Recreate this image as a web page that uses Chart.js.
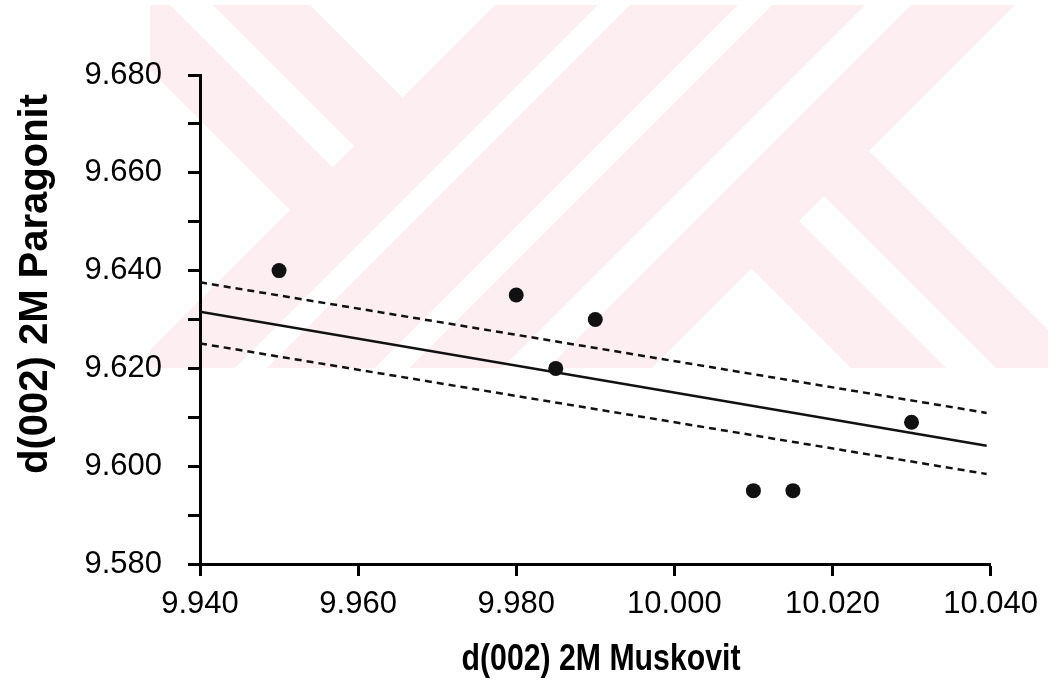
<!DOCTYPE html>
<html>
<head>
<meta charset="utf-8">
<script src="https://cdn.jsdelivr.net/npm/chart.js@4.4.0/dist/chart.umd.min.js"></script>
<style>
    html, body { margin: 0; padding: 0; background: #fff; }
    #wrap { width: 1048px; height: 683px; }
</style>
</head>
<body>
<div id="wrap"><canvas id="chart" width="1048" height="683"></canvas></div>
<script>
// Valori
const muskovit = [9.950, 9.980, 9.990, 9.985, 10.010, 10.015, 10.030];
const paragonit = [9.640, 9.635, 9.630, 9.620, 9.595, 9.595, 9.609];

// Retta di regressione e limiti tratteggiati (estremi)
const fitX = [9.940, 10.0395];
const fitY = [9.6316, 9.6042];
const upperY = [9.6376, 9.6109];
const lowerY = [9.6251, 9.5984];

// Tick degli assi
const xTicks = [9.94, 9.96, 9.98, 10.00, 10.02, 10.04];
const yTicks = [9.58, 9.59, 9.60, 9.61, 9.62, 9.63, 9.64, 9.65, 9.66, 9.67, 9.68];
const yLabelled = [9.58, 9.60, 9.62, 9.64, 9.66, 9.68];

const xTitle = 'd(002) 2M Muskovit';
const yTitle = 'd(002) 2M Paragonit';

const FONT = '"Liberation Sans", Arial, sans-serif';

// Filigrana rosa di sfondo (solo decorazione)
const WM_COLOR = '#fdeef1';
const wmBox = { left: 150, top: 5, right: 1048, bottom: 368 };
function slashBand(c1, c2) {
    return [
        [c1 / 2 - 1000, c1 / 2 + 1000], [c1 / 2 + 1000, c1 / 2 - 1000],
        [c2 / 2 + 1000, c2 / 2 - 1000], [c2 / 2 - 1000, c2 / 2 + 1000]
    ];
}
const wmCuts = [
    [[290, 210], [-710, -790], [-710, 1210]],
    [[332.5, 167.5], [354, 146], [-646, -854], [-667.5, -832.5]],
    [[402.5, 97.5], [-597.5, -902.5], [1402.5, -902.5]],
    slashBand(603, 635),
    slashBand(743, 777),
    slashBand(870, 916),
    [[751.5, 268.5], [-248.5, 1268.5], [1751.5, 1268.5]],
    [[799, 221], [824, 196], [1824, 1196], [1799, 1221]],
    [[869, 151], [1869, -849], [1869, 1151]]
];

const watermark = {
    id: 'watermark',
    beforeDraw(chart) {
        const ctx = chart.ctx;
        ctx.save();
        ctx.fillStyle = '#fff';
        ctx.fillRect(0, 0, chart.width, chart.height);
        ctx.beginPath();
        ctx.rect(wmBox.left, wmBox.top, wmBox.right - wmBox.left, wmBox.bottom - wmBox.top);
        ctx.clip();
        ctx.fillStyle = WM_COLOR;
        ctx.fillRect(wmBox.left, wmBox.top, wmBox.right - wmBox.left, wmBox.bottom - wmBox.top);
        ctx.fillStyle = '#fff';
        wmCuts.forEach(poly => {
            ctx.beginPath();
            poly.forEach((p, i) => i ? ctx.lineTo(p[0], p[1]) : ctx.moveTo(p[0], p[1]));
            ctx.closePath();
            ctx.fill();
        });
        ctx.restore();
    }
};

// Titoli degli assi: x compresso in orizzontale, y spostato verso l'alto come nell'originale
const axisTitles = {
    id: 'axisTitles',
    afterDraw(chart) {
        const ctx = chart.ctx;
        ctx.save();
        ctx.fillStyle = '#000';
        ctx.textAlign = 'center';
        ctx.textBaseline = 'middle';
        ctx.font = 'bold 36px ' + FONT;

        ctx.save();
        ctx.translate(601, 660);
        ctx.scale(0.84, 1);
        ctx.fillText(xTitle, 0, 0);
        ctx.restore();

        ctx.font = 'bold 40px ' + FONT;
        ctx.translate(36, 284);
        ctx.rotate(-Math.PI / 2);
        ctx.fillText(yTitle, 0, 0);
        ctx.restore();
    }
};

const points = muskovit.map((x, i) => ({ x: x, y: paragonit[i] }));
const line = ys => fitX.map((x, i) => ({ x: x, y: ys[i] }));

new Chart(document.getElementById('chart'), {
    type: 'scatter',
    data: {
        datasets: [
            {
                label: 'dati',
                data: points,
                backgroundColor: '#111',
                borderWidth: 0,
                pointRadius: 7.5,
                order: 0
            },
            {
                label: 'regressione',
                data: line(fitY),
                showLine: true,
                borderColor: '#111',
                borderWidth: 2.5,
                pointRadius: 0,
                order: 1
            },
            {
                label: 'limite superiore',
                data: line(upperY),
                showLine: true,
                borderColor: '#111',
                borderWidth: 2.5,
                borderDash: [7, 5],
                pointRadius: 0,
                order: 1
            },
            {
                label: 'limite inferiore',
                data: line(lowerY),
                showLine: true,
                borderColor: '#111',
                borderWidth: 2.5,
                borderDash: [7, 5],
                pointRadius: 0,
                order: 1
            }
        ]
    },
    options: {
        responsive: false,
        animation: false,
        layout: { padding: { left: 0, top: 75, right: 56, bottom: 0 } },
        plugins: {
            legend: { display: false },
            tooltip: { enabled: false }
        },
        scales: {
            x: {
                type: 'linear',
                min: 9.94,
                max: 10.04,
                afterBuildTicks: s => { s.ticks = xTicks.map(v => ({ value: v })); },
                afterFit: s => { s.height = 119; },
                ticks: {
                    font: { family: FONT, size: 31 },
                    color: '#000',
                    padding: 10,
                    maxRotation: 0,
                    autoSkip: false,
                    callback: v => Number(v).toFixed(3)
                },
                grid: {
                    drawOnChartArea: false,
                    tickLength: 12,
                    tickWidth: 3,
                    tickColor: '#000'
                },
                border: { color: '#000', width: 3 }
            },
            y: {
                type: 'linear',
                min: 9.58,
                max: 9.68,
                afterBuildTicks: s => { s.ticks = yTicks.map(v => ({ value: v })); },
                afterFit: s => { s.width = 200; },
                ticks: {
                    font: { family: FONT, size: 31 },
                    color: '#000',
                    padding: 26,
                    autoSkip: false,
                    callback: v => yLabelled.some(t => Math.abs(t - v) < 1e-6) ? Number(v).toFixed(3) : ''
                },
                grid: {
                    drawOnChartArea: false,
                    tickLength: 12,
                    tickWidth: 3,
                    tickColor: '#000'
                },
                border: { color: '#000', width: 3 }
            }
        }
    },
    plugins: [watermark, axisTitles]
});
</script>
</body>
</html>
